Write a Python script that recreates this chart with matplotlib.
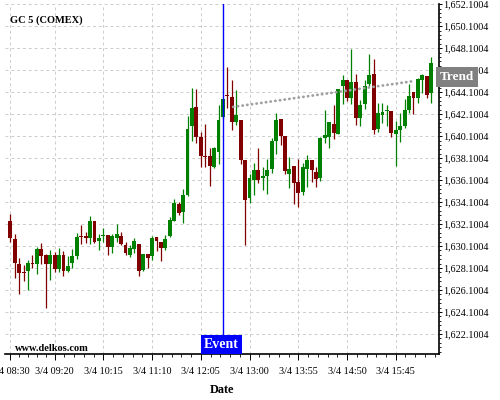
import matplotlib
matplotlib.use('Agg')
import matplotlib.pyplot as plt
import matplotlib.transforms as mtransforms
from matplotlib.ticker import FuncFormatter, FixedLocator

plt.rcParams['font.family'] = ['Liberation Serif', 'DejaVu Serif']

# 5 minute candles, GC 5 (COMEX), 3/4 08:30 onwards
opens = [1632.34, 1630.77, 1628.43, 1627.75, 1627.83, 1628.55, 1628.46, 1629.80, 1629.31, 1628.43,
         1629.25, 1627.98, 1629.25, 1627.83, 1628.55, 1629.16, 1631.01, 1630.98, 1630.86, 1632.34,
         1630.55, 1631.04, 1631.07, 1630.01, 1630.86, 1630.98, 1630.16, 1629.25, 1629.86, 1630.25,
         1627.89, 1629.40, 1629.16, 1630.95, 1630.43, 1629.92, 1631.04, 1632.40, 1633.92, 1633.16,
         1634.77, 1640.98, 1642.77, 1640.04, 1638.31, 1638.31, 1637.31, 1638.70, 1641.80, 1643.80,
         1643.67, 1641.39, 1641.60, 1637.89, 1634.49, 1636.07, 1637.04, 1636.30, 1636.52, 1637.10,
         1639.66, 1641.69, 1640.08, 1636.62, 1637.40, 1635.89, 1634.98, 1637.10, 1637.95, 1636.86,
         1636.28, 1639.92, 1640.04, 1641.19, 1640.34, 1644.68, 1645.19, 1643.55, 1645.04, 1641.74,
         1643.07, 1644.89, 1645.74, 1640.74, 1642.04, 1642.40, 1642.40, 1640.34, 1640.65, 1641.04,
         1642.46, 1644.13, 1643.61, 1645.19, 1645.59, 1644.07]
highs = [1632.98, 1631.16, 1629.01, 1628.34, 1628.80, 1629.25, 1630.00, 1630.40, 1629.35, 1629.77,
         1629.55, 1629.95, 1629.65, 1629.16, 1629.86, 1631.28, 1632.01, 1631.37, 1632.80, 1632.34,
         1631.22, 1631.77, 1631.10, 1631.22, 1632.07, 1631.37, 1630.46, 1630.16, 1630.86, 1630.25,
         1629.40, 1629.40, 1630.98, 1630.95, 1630.43, 1631.13, 1632.70, 1634.37, 1634.07, 1635.28,
         1641.95, 1644.46, 1644.37, 1640.52, 1641.19, 1639.01, 1639.13, 1642.95, 1643.50, 1646.40,
         1645.25, 1644.34, 1641.60, 1637.95, 1636.68, 1637.65, 1639.05, 1637.28, 1638.04, 1639.96,
         1642.24, 1641.69, 1640.08, 1638.20, 1637.40, 1638.00, 1637.70, 1638.40, 1637.95, 1637.25,
         1639.98, 1642.46, 1641.40, 1642.92, 1644.37, 1645.68, 1645.19, 1648.00, 1645.80, 1643.37,
         1645.19, 1647.55, 1647.10, 1643.16, 1643.16, 1642.95, 1642.40, 1641.49, 1642.25, 1643.46,
         1644.89, 1644.13, 1645.43, 1645.80, 1645.59, 1647.31]
lows = [1630.46, 1627.22, 1625.77, 1626.92, 1626.13, 1628.13, 1627.58, 1628.43, 1624.48, 1626.98,
        1627.74, 1627.74, 1627.34, 1627.74, 1628.13, 1628.95, 1630.31, 1630.37, 1630.31, 1630.40,
        1629.77, 1630.46, 1629.25, 1629.46, 1630.46, 1630.16, 1629.25, 1629.10, 1629.46, 1627.34,
        1627.83, 1628.13, 1628.80, 1629.61, 1628.77, 1629.74, 1630.95, 1632.34, 1632.95, 1632.16,
        1634.68, 1639.67, 1639.52, 1637.25, 1637.25, 1635.58, 1637.19, 1637.55, 1641.70, 1642.70,
        1640.69, 1641.08, 1637.53, 1630.23, 1634.00, 1634.76, 1635.83, 1635.22, 1634.85, 1636.74,
        1638.50, 1639.26, 1636.62, 1635.40, 1633.94, 1633.64, 1634.77, 1635.43, 1635.89, 1635.50,
        1636.04, 1639.52, 1639.00, 1639.83, 1640.28, 1643.01, 1643.31, 1643.07, 1641.13, 1641.04,
        1642.55, 1644.68, 1640.34, 1640.52, 1641.34, 1641.04, 1640.04, 1637.40, 1639.53, 1640.83,
        1642.25, 1642.10, 1643.16, 1644.07, 1643.61, 1643.16]
closes = [1630.83, 1628.55, 1627.68, 1627.65, 1628.55, 1628.46, 1629.80, 1629.19, 1628.43, 1629.31,
          1627.98, 1629.25, 1627.83, 1628.25, 1629.16, 1630.92, 1630.92, 1630.86, 1632.34, 1630.46,
          1630.80, 1631.13, 1630.01, 1630.98, 1631.16, 1630.25, 1629.46, 1629.92, 1630.52, 1627.83,
          1629.40, 1629.01, 1630.80, 1630.52, 1629.92, 1630.74, 1632.46, 1634.00, 1633.07, 1634.77,
          1640.74, 1642.64, 1640.04, 1638.31, 1638.22, 1637.40, 1639.01, 1641.55, 1643.46, 1643.73,
          1641.39, 1642.00, 1637.95, 1634.31, 1636.31, 1637.04, 1636.13, 1636.43, 1636.98, 1639.63,
          1641.60, 1640.08, 1636.92, 1637.10, 1635.83, 1634.92, 1637.31, 1637.95, 1637.01, 1636.19,
          1639.92, 1640.22, 1641.40, 1640.43, 1644.37, 1645.19, 1643.55, 1645.07, 1641.74, 1642.95,
          1644.68, 1645.68, 1640.65, 1642.19, 1642.31, 1642.49, 1640.43, 1640.65, 1641.04, 1642.49,
          1643.77, 1643.55, 1645.28, 1645.68, 1643.83, 1646.74]

# bar index of the labelled times (one bar missing before 09:20)
tick_pos = [0, 10, 21, 32, 43, 54, 65, 76, 87]
tick_labels = ['3/4 08:30', '3/4 09:20', '3/4 10:15', '3/4 11:10', '3/4 12:05',
               '3/4 13:00', '3/4 13:55', '3/4 14:50', '3/4 15:45']
y_ticks = [1622.1004 + 2 * k for k in range(16)]

event_bar = 48
trend_x = [50.3, 91.4]
trend_y = [1642.76, 1645.13]
trend_label_y = 1645.46

green = '#008000'
red = '#800000'

fig = plt.figure(figsize=(5, 4), dpi=100)
ax = fig.add_axes([0.01, 0.115, 0.867, 0.876])

# candles
for i in range(len(opens)):
    o, h, l, c = opens[i], highs[i], lows[i], closes[i]
    col = green if c >= o else red
    ax.vlines(i, l, h, color=col, lw=0.9, zorder=3)
    body = max(abs(c - o), 0.08)
    ax.bar(i, body, bottom=min(o, c), width=0.88, color=col, lw=0, zorder=3)

ax.set_xlim(-1.2, 96.65)
ax.set_ylim(1620.28, 1652.16)

# trend line
ax.plot(trend_x, trend_y, color='#a0a0a0', lw=2.0, ls=(0, (0.1, 1.6)),
        dash_capstyle='round', zorder=4)

# event line + label
ax.axvline(event_bar, color='#0000ff', lw=1, zorder=5)
ax.annotate('Event', xy=(event_bar - 0.3, 0), xycoords=('data', 'axes fraction'),
            xytext=(0, 2.3), textcoords='offset points', ha='center', va='bottom',
            color='white', fontsize=10, fontweight='bold', zorder=6,
            bbox=dict(boxstyle='square,pad=0.23', fc='#0000ff', ec='none'))

# trend label on the price axis
trans = mtransforms.blended_transform_factory(ax.transAxes, ax.transData)
ax.text(1.003, trend_label_y, 'Trend', transform=trans, ha='left', va='center',
        color='white', fontsize=9.5, fontweight='bold', zorder=10, clip_on=False,
        bbox=dict(boxstyle='square,pad=0.32', fc='#808080', ec='none'))

# axes styling
for s in ['left', 'top']:
    ax.spines[s].set_visible(False)
ax.spines['right'].set_linewidth(1.2)
ax.spines['bottom'].set_linewidth(1.2)

ax.yaxis.tick_right()
ax.set_yticks(y_ticks)
ax.yaxis.set_major_formatter(FuncFormatter(lambda v, p: f'{v:,.4f}'))
ax.yaxis.set_minor_locator(FixedLocator([1620.5004 + 0.4 * k for k in range(80)]))
ax.tick_params(axis='y', which='major', length=2.5, width=0.7, pad=1, labelsize=7.3)
ax.tick_params(axis='y', which='minor', length=1.5, width=0.6)

ax.set_xticks(tick_pos)
ax.set_xticklabels(tick_labels)
minor_x = []
for a, b in zip(tick_pos[:-1], tick_pos[1:]):
    minor_x += [a + (b - a) * k / 5 for k in range(1, 5)]
minor_x += [87 + 2.2 * k for k in range(1, 5)]
ax.xaxis.set_minor_locator(FixedLocator(minor_x))
ax.tick_params(axis='x', which='major', length=4, width=0.7, pad=5, labelsize=7.3)
ax.tick_params(axis='x', which='minor', length=2, width=0.6)

ax.grid(True, which='major', color='#cccccc', lw=0.7, ls=(0, (3, 3)), zorder=0)
ax.set_axisbelow(True)

ax.set_xlabel('Date', fontsize=8.8, fontweight='bold', labelpad=6)

fig.text(0.02, 0.95, 'GC 5 (COMEX)', fontsize=7.5, fontweight='bold', va='center')
fig.text(0.03, 0.128, 'www.delkos.com', fontsize=7.5, fontweight='bold', va='center')

fig.savefig('out.png', dpi=100)
